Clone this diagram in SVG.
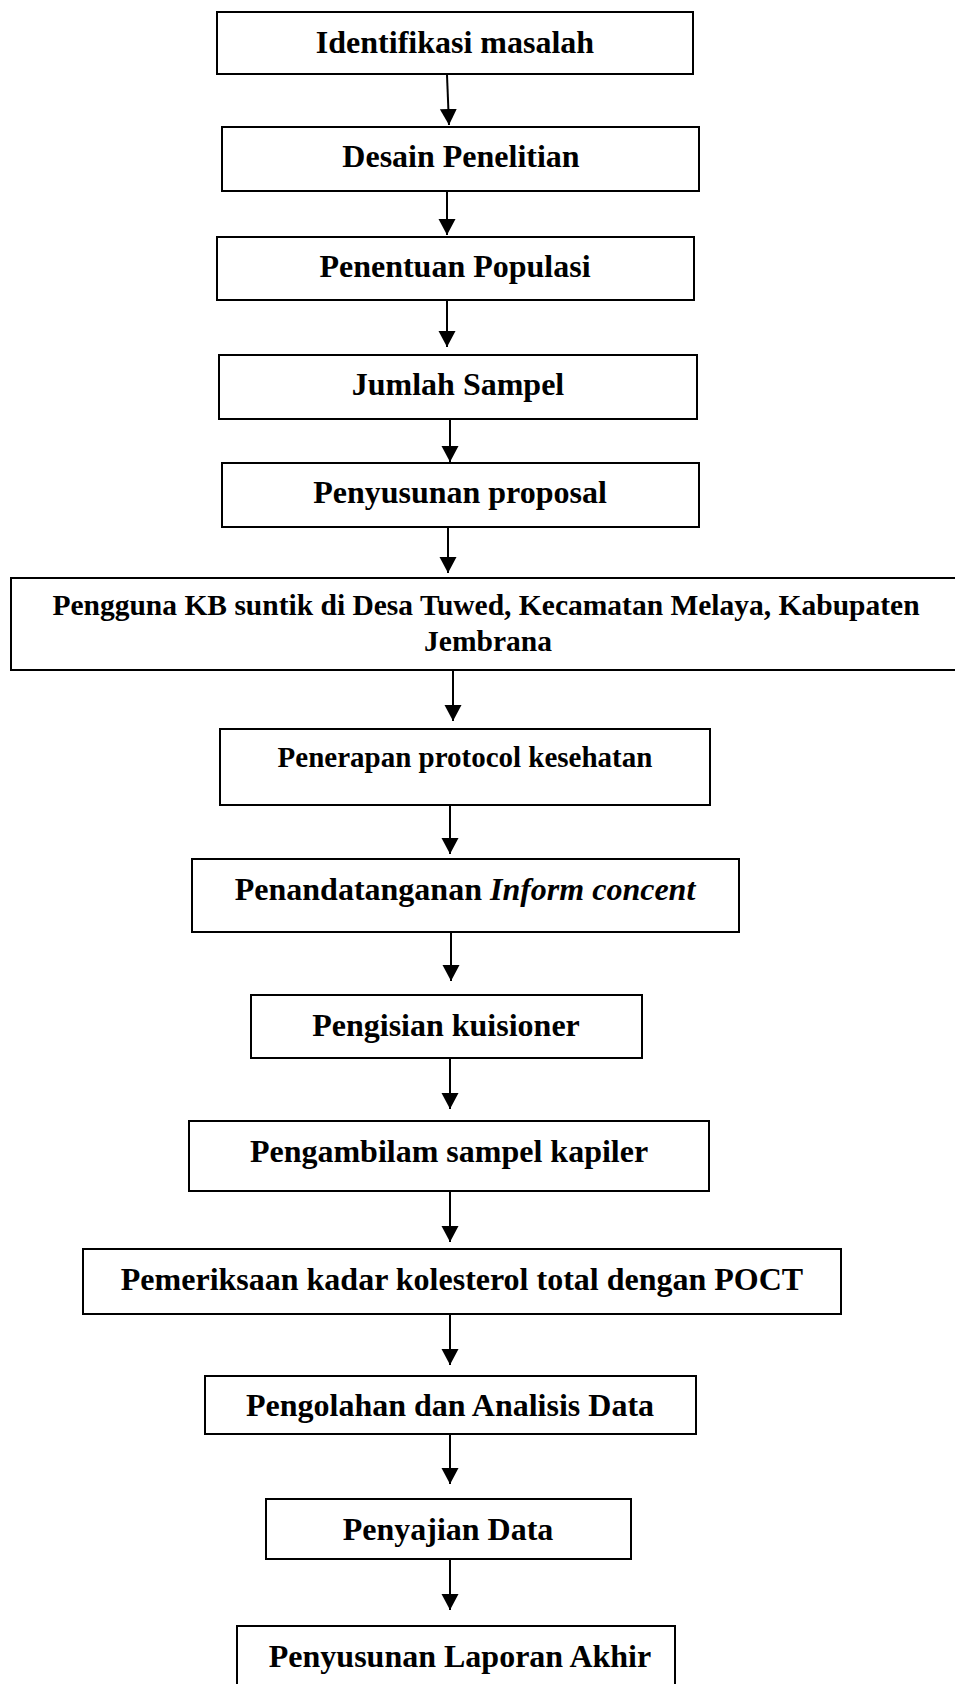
<svg xmlns="http://www.w3.org/2000/svg" width="955" height="1684" viewBox="0 0 955 1684">
<style>
.box{fill:#fff;stroke:#000;stroke-width:2}
.t{font-family:"Liberation Serif","Times New Roman",serif;font-weight:bold;font-size:32px;fill:#000;text-anchor:middle}
.s{font-size:29.5px}
.s2{font-size:29px}
.c{stroke:#000;stroke-width:2;fill:none;marker-end:url(#ah)}
</style>
<defs>
<marker id="ah" markerUnits="userSpaceOnUse" markerWidth="17" markerHeight="18" refX="16" refY="8.5" orient="auto">
<path d="M0,0 L16,8.5 L0,17 z" fill="#000"/>
</marker>
</defs>
<rect width="955" height="1684" fill="#fff"/>
<g id="connectors">
<line class="c" x1="447" y1="75" x2="449" y2="125"/>
<line class="c" x1="447" y1="192" x2="447" y2="235"/>
<line class="c" x1="447" y1="301" x2="447" y2="347"/>
<line class="c" x1="450" y1="420" x2="450" y2="462"/>
<line class="c" x1="448" y1="528" x2="448" y2="573"/>
<line class="c" x1="453" y1="671" x2="453" y2="721"/>
<line class="c" x1="450" y1="806" x2="450" y2="854"/>
<line class="c" x1="451" y1="933" x2="451" y2="981"/>
<line class="c" x1="450" y1="1059" x2="450" y2="1109"/>
<line class="c" x1="450" y1="1192" x2="450" y2="1242"/>
<line class="c" x1="450" y1="1315" x2="450" y2="1365"/>
<line class="c" x1="450" y1="1435" x2="450" y2="1484"/>
<line class="c" x1="450" y1="1560" x2="450" y2="1610"/>
</g>
<g id="n1"><rect class="box" x="217" y="12" width="476" height="62"/><text class="t" x="455" y="53">Identifikasi masalah</text></g>
<g id="n2"><rect class="box" x="222" y="127" width="477" height="64"/><text class="t" x="461" y="167">Desain Penelitian</text></g>
<g id="n3"><rect class="box" x="217" y="237" width="477" height="63"/><text class="t" x="455" y="277">Penentuan Populasi</text></g>
<g id="n4"><rect class="box" x="219" y="355" width="478" height="64"/><text class="t" x="458" y="395">Jumlah Sampel</text></g>
<g id="n5"><rect class="box" x="222" y="463" width="477" height="64"/><text class="t" x="460" y="503">Penyusunan proposal</text></g>
<g id="n6"><rect class="box" x="11" y="578" width="952" height="92"/><text class="t s" x="486" y="615">Pengguna KB suntik di Desa Tuwed, Kecamatan Melaya, Kabupaten</text><text class="t s" x="488" y="651">Jembrana</text></g>
<g id="n7"><rect class="box" x="220" y="729" width="490" height="76"/><text class="t s2" x="465" y="767">Penerapan protocol kesehatan</text></g>
<g id="n8"><rect class="box" x="192" y="859" width="547" height="73"/><text class="t" x="465" y="900">Penandatanganan <tspan font-style="italic">Inform concent</tspan></text></g>
<g id="n9"><rect class="box" x="251" y="995" width="391" height="63"/><text class="t" x="446" y="1036">Pengisian kuisioner</text></g>
<g id="n10"><rect class="box" x="189" y="1121" width="520" height="70"/><text class="t" x="449" y="1162">Pengambilam sampel kapiler</text></g>
<g id="n11"><rect class="box" x="83" y="1249" width="758" height="65"/><text class="t" x="462" y="1290">Pemeriksaan kadar kolesterol total dengan POCT</text></g>
<g id="n12"><rect class="box" x="205" y="1376" width="491" height="58"/><text class="t" x="450" y="1416">Pengolahan dan Analisis Data</text></g>
<g id="n13"><rect class="box" x="266" y="1499" width="365" height="60"/><text class="t" x="448" y="1540">Penyajian Data</text></g>
<g id="n14"><rect class="box" x="237" y="1626" width="438" height="80"/><text class="t" x="460" y="1667">Penyusunan Laporan Akhir</text></g>
</svg>
